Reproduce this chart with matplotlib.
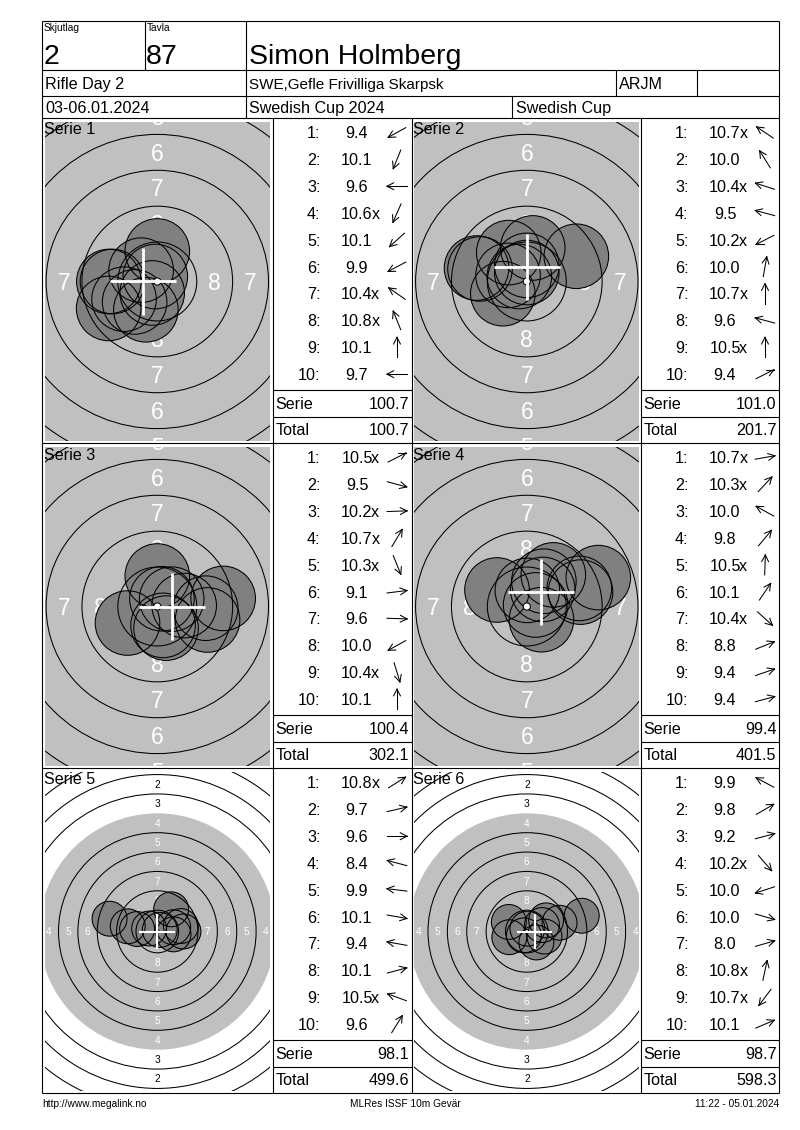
import numpy as np
import matplotlib
matplotlib.use("Agg")
import matplotlib.pyplot as plt
from matplotlib.patches import Circle

plt.rcParams['font.family'] = ['Liberation Sans', 'DejaVu Sans']

# ---------------- data ----------------
relay_label = "Skjutlag"
relay = "2"
lane_label = "Tavla"
lane = "87"
shooter = "Simon Holmberg"
event = "Rifle Day 2"
club = "SWE,Gefle Frivilliga Skarpsk"
shooter_class = "ARJM"
dates = "03-06.01.2024"
competition = "Swedish Cup 2024"
cup = "Swedish Cup"
footer_left = "http://www.megalink.no"
footer_mid = "MLRes ISSF 10m Gevär"
footer_right = "11:22 - 05.01.2024"

series_names = ["Serie 1", "Serie 2", "Serie 3", "Serie 4", "Serie 5", "Serie 6"]

scores_s1 = ["9.4", "10.1", "9.6", "10.6x", "10.1", "9.9", "10.4x", "10.8x", "10.1", "9.7"]
angles_s1 = [209, 248, 180, 246, 222, 208, 145, 112, 90, 180]
scores_s2 = ["10.7x", "10.0", "10.4x", "9.5", "10.2x", "10.0", "10.7x", "9.6", "10.5x", "9.4"]
angles_s2 = [146, 122, 162, 165, 207, 80, 90, 165, 90, 27]
scores_s3 = ["10.5x", "9.5", "10.2x", "10.7x", "10.3x", "9.1", "9.6", "10.0", "10.4x", "10.1"]
angles_s3 = [27, 345, 2, 59, 292, 7, 358, 209, 287, 90]
scores_s4 = ["10.7x", "10.3x", "10.0", "9.8", "10.5x", "10.1", "10.4x", "8.8", "9.4", "9.4"]
angles_s4 = [10, 47, 151, 50, 88, 56, 318, 22, 19, 15]
scores_s5 = ["10.8x", "9.7", "9.6", "8.4", "9.9", "10.1", "9.4", "10.1", "10.5x", "9.6"]
angles_s5 = [32, 13, 0, 165, 173, 350, 170, 15, 160, 58]
scores_s6 = ["9.9", "9.8", "9.2", "10.2x", "10.0", "10.0", "8.0", "10.8x", "10.7x", "10.1"]
angles_s6 = [152, 30, 15, 311, 198, 344, 16, 78, 233, 23]

serie_sums = ["100.7", "101.0", "100.4", "99.4", "98.1", "98.7"]
running_totals = ["100.7", "201.7", "302.1", "401.5", "499.6", "598.3"]
mpi_x = [-1, 0, 1, 1, 0, 1]     # mean point of impact shown by the white cross (mm)
mpi_y = [0, 1, 0, 1, 0, 0]
zoomed_view = [True, True, True, True, False, False]

all_scores = [scores_s1, scores_s2, scores_s3, scores_s4, scores_s5, scores_s6]
all_angles = [angles_s1, angles_s2, angles_s3, angles_s4, angles_s5, angles_s6]

# ---------------- layout (pixels) ----------------
W, H = 800, 1130
fig = plt.figure(figsize=(8, 11.3), dpi=100)
fig.patch.set_facecolor('white')

LW = 0.8
TXT = 11.6
GRAY = '#C0C0C0'
SHOT = '#808080'

LEFT, RIGHT, TOP, BOTTOM = 42, 779, 21, 1093
row_tops = [118, 443, 768]
col_left = [42, 411.5]
tab_left = [272.5, 640.5]
tab_right = [411.5, 779]
AX_W, AX_H = 225.0, 319.0

RING_R = {n: 2.75 + (9 - n) * 2.5 for n in range(1, 10)}
PELLET_R = 2.25


def fig_rect(x0, y0, w, h):
    return [x0 / W, 1 - (y0 + h) / H, w / W, h / H]


def draw_target(ax, scores, angles, mx, my, zoomed):
    s = 14.35 if zoomed else 7.75          # px per mm
    hx, hy = (AX_W / 2) / s, (AX_H / 2) / s
    ax.set_xlim(-hx, hx)
    ax.set_ylim(-hy, hy)
    ax.set_axis_off()
    ax.add_patch(Circle((0, 0), RING_R[4], fc=GRAY, ec='none', zorder=1))
    fs = 16.5 if zoomed else 7.3
    half_cap = 0.358 * fs * (100 / 72) / s
    for n in range(1, 9):
        rm = RING_R[n] - 1.25
        col = 'white' if n >= 4 else 'black'
        for (lx, ly) in [(0, rm), (0, -rm), (rm, 0), (-rm, 0)]:
            ax.text(lx, ly - half_cap, str(n), ha='center', va='baseline',
                    fontsize=fs, color=col, zorder=2, clip_on=True)
    vals = np.array([float(v.rstrip('x')) for v in scores])
    r = (10.9 - vals) * 2.5 + 0.125
    th = np.radians(angles)
    xs, ys = r * np.cos(th), r * np.sin(th)
    for x, y in zip(xs, ys):
        ax.add_patch(Circle((x, y), PELLET_R, fc=SHOT, ec='none', zorder=3))
    for x, y in zip(xs, ys):
        ax.add_patch(Circle((x, y), PELLET_R, fill=False, ec='black', lw=0.75, zorder=4))
    for n in [1, 2, 3, 5, 6, 7, 8, 9]:
        ax.add_patch(Circle((0, 0), RING_R[n], fill=False, ec='black', lw=0.75, zorder=5))
    ax.add_patch(Circle((0, 0), 0.25, fc='white', ec='black', lw=0.75, zorder=6))
    cw = 2.0 if zoomed else 1.5
    ax.plot([mx - 2.3, mx + 2.3], [my, my], color='white', lw=cw,
            solid_capstyle='butt', zorder=7)
    ax.plot([mx, mx], [my - 2.3, my + 2.3], color='white', lw=cw,
            solid_capstyle='butt', zorder=7)


# targets
for i in range(6):
    row, col = i // 2, i % 2
    T = row_tops[row]
    ax = fig.add_axes(fig_rect(col_left[col] + 2.8, T + 4, AX_W, AX_H))
    draw_target(ax, all_scores[i], all_angles[i], mpi_x[i], mpi_y[i], zoomed_view[i])

# page overlay
page = fig.add_axes([0, 0, 1, 1])
page.set_xlim(0, W)
page.set_ylim(H, 0)
page.set_axis_off()
page.patch.set_alpha(0)
page.set_zorder(10)


def hline(y, x0, x1):
    page.plot([x0, x1], [y, y], color='black', lw=LW, solid_capstyle='butt')


def vline(x, y0, y1):
    page.plot([x, x], [y0, y1], color='black', lw=LW, solid_capstyle='butt')


def txt(x, y, s, fs=TXT, ha='left'):
    return page.text(x, y, s, fontsize=fs, ha=ha, va='baseline', color='black')


# frame and header grid
hline(TOP, LEFT, RIGHT)
hline(BOTTOM, LEFT, RIGHT)
vline(LEFT, TOP, BOTTOM)
vline(RIGHT, TOP, BOTTOM)
hline(70, LEFT, RIGHT)
hline(95.5, LEFT, RIGHT)
hline(118, LEFT, RIGHT)
vline(144.5, TOP, 70)
vline(246, TOP, 118)
vline(616, 70, 95.5)
vline(697, 70, 95.5)
vline(512, 95.5, 118)

txt(44, 31, relay_label, fs=7.3)
txt(43.5, 64, relay, fs=20.5)
txt(146.5, 31, lane_label, fs=7.3)
txt(146, 64, lane, fs=20.5)
txt(249, 64, shooter, fs=20.5)
txt(45, 89, event)
txt(249, 89, club, fs=11.0)
txt(619, 89, shooter_class)
txt(45, 113, dates)
txt(249, 113, competition)
txt(516, 113, cup)

# series blocks grid
for T in row_tops[1:]:
    hline(T, LEFT, RIGHT)
for x in [tab_left[0], tab_right[0], tab_left[1]]:
    vline(x, 118, BOTTOM)


def draw_arrow(cx, cy, ang):
    t = np.radians(ang)
    dx, dy = np.cos(t), -np.sin(t)
    L = 10.0
    x0, y0 = cx - L * dx, cy - L * dy
    x1, y1 = cx + L * dx, cy + L * dy
    page.plot([x0, x1], [y0, y1], color='black', lw=0.75)
    for sgn in (1, -1):
        a = t + np.pi + sgn * np.radians(27)
        page.plot([x1, x1 + 7.5 * np.cos(a)], [y1, y1 - 7.5 * np.sin(a)],
                  color='black', lw=0.75)


renderer = fig.canvas.get_renderer()
base = 0.358 * TXT / 0.72

for i in range(6):
    row, col = i // 2, i % 2
    T = row_tops[row]
    Lt, Rt = tab_left[col], tab_right[col]
    txt(col_left[col] + 1.5, T + 16.5, series_names[i])
    for k, (sc, an) in enumerate(zip(all_scores[i], all_angles[i])):
        yc = T + 14.5 + k * 26.85
        txt(Lt + 48, yc + base, f"{k + 1}:", ha='right')
        num = sc.rstrip('x')
        t = txt(Lt + 84.5, yc + base, num, ha='center')
        if sc.endswith('x'):
            w = t.get_window_extent(renderer).width
            txt(Lt + 84.5 + w / 2 - 1.5, yc + base, 'x')
        draw_arrow(Lt + 124.5, yc, an)
    hline(T + 271.7, Lt, Rt)
    hline(T + 299.3, Lt, Rt)
    txt(Lt + 3, T + 285 + base, "Serie")
    txt(Rt - 2.5, T + 285 + base, serie_sums[i], ha='right')
    txt(Lt + 3, T + 311.7 + base, "Total")
    txt(Rt - 2.5, T + 311.7 + base, running_totals[i], ha='right')

# footer
txt(42, 1107, footer_left, fs=7.3)
txt(405, 1107, footer_mid, fs=7.3, ha='center')
txt(779, 1107, footer_right, fs=7.3, ha='right')

fig.savefig("out.png", dpi=100, facecolor='white')
